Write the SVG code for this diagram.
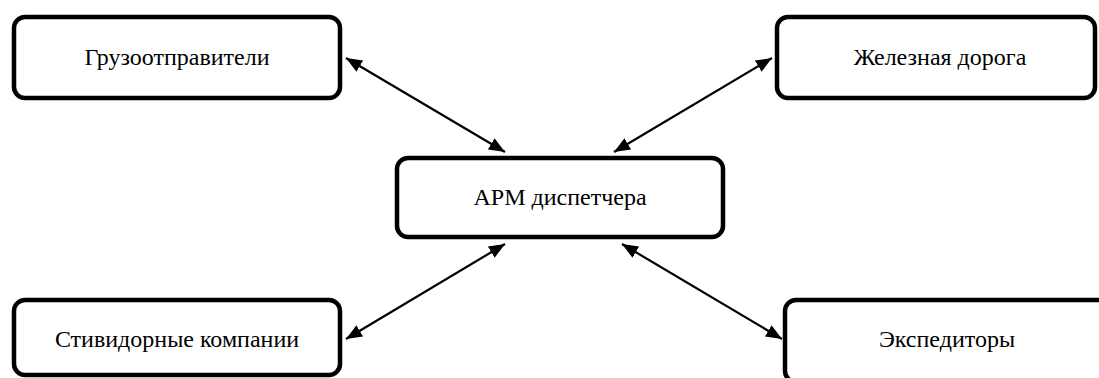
<svg xmlns="http://www.w3.org/2000/svg" width="1099" height="378" viewBox="0 0 1099 378">
  <style>
    .box { fill: #ffffff; stroke: #000000; stroke-width: 4.5; }
    .label { font-family: 'Liberation Serif', 'Times New Roman', serif; font-size: 24px; fill: #000000; text-anchor: middle; }
    .link { stroke: #000000; stroke-width: 2.2; fill: none; marker-start: url(#head); marker-end: url(#head); }
  </style>
  <defs>
    <!-- filled triangular arrowhead, reused at both ends of every link -->
    <marker id="head" viewBox="0 0 10 10" refX="10" refY="5" markerWidth="16" markerHeight="13" markerUnits="userSpaceOnUse" orient="auto-start-reverse" preserveAspectRatio="none">
      <path d="M0,0 L10,5 L0,10 Z" fill="#000000"/>
    </marker>
  </defs>
  <rect width="1099" height="378" fill="#ffffff"/>

  <!-- two-way links between the dispatcher workstation and each party -->
  <g id="connectors">
    <line class="link" x1="346" y1="58" x2="505" y2="152"/>
    <line class="link" x1="772" y1="58" x2="614" y2="152"/>
    <line class="link" x1="346" y1="339" x2="505" y2="244"/>
    <line class="link" x1="782" y1="339" x2="622" y2="244"/>
  </g>

  <g id="node-shippers">
    <rect class="box" x="14" y="17" width="326" height="81" rx="11"/>
    <text class="label" x="177" y="65">Грузоотправители</text>
  </g>

  <g id="node-railway">
    <rect class="box" x="777" y="17" width="318" height="81" rx="11"/>
    <text class="label" x="940" y="65">Железная дорога</text>
  </g>

  <g id="node-dispatcher">
    <rect class="box" x="397" y="158" width="326" height="79" rx="11"/>
    <text class="label" x="560" y="205">АРМ диспетчера</text>
  </g>

  <g id="node-stevedores">
    <rect class="box" x="14" y="300" width="326" height="75" rx="11"/>
    <text class="label" x="177" y="347">Стивидорные компании</text>
  </g>

  <g id="node-forwarders">
    <rect class="box" x="785" y="300" width="326" height="82" rx="11"/>
    <text class="label" x="947" y="347">Экспедиторы</text>
  </g>
</svg>
